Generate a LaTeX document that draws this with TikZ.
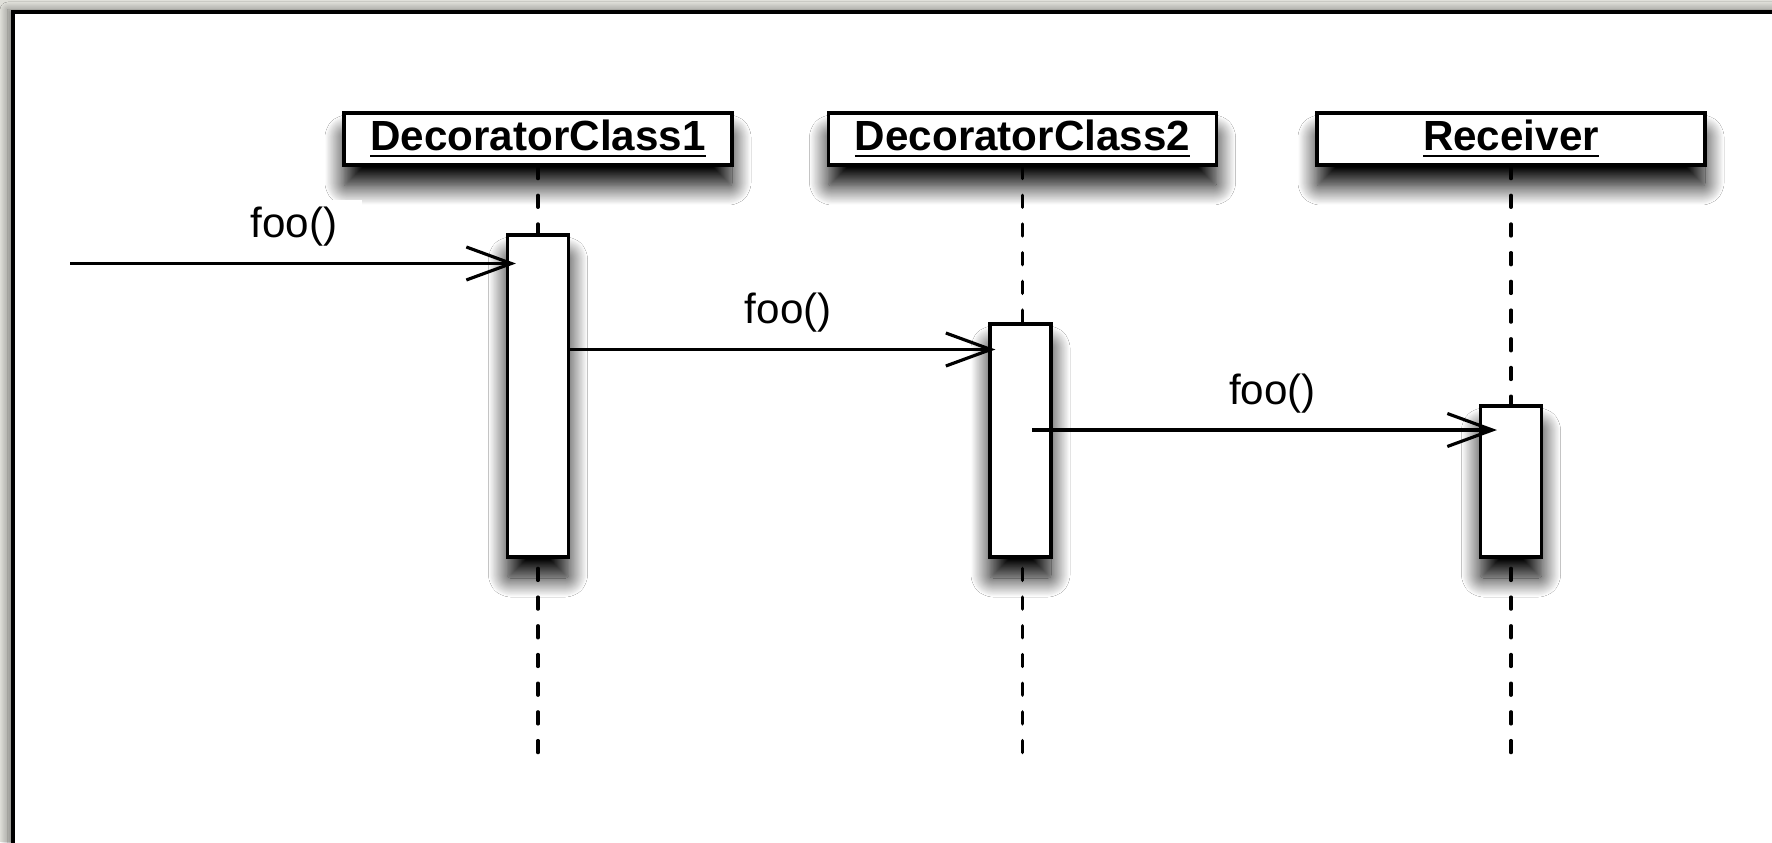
\documentclass[tikz,border=0pt]{standalone}
\usepackage{fontspec}
\setmainfont{Liberation Sans}
\usetikzlibrary{arrows.meta}
\usetikzlibrary{shadows.blur}
\definecolor{desk}{RGB}{224,224,218}

% soft drop shadow under boxes
\tikzset{
	soft shadow/.style={blur shadow={shadow xshift=0mm, shadow yshift=-2.1mm, shadow blur radius=1.9mm, shadow blur steps=24, shadow blur extra rounding=0.3mm, shadow opacity=100}},
	header/.style={draw, fill=white, line width=0.9pt, minimum width=3.88cm, minimum height=0.52cm, inner sep=0pt, soft shadow, font=\fontsize{12}{14}\selectfont\bfseries},
	activation/.style={draw, fill=white, line width=0.9pt, minimum width=0.61cm, inner sep=0pt, soft shadow},
	lifeline/.style={line width=0.95pt, line cap=round, dash pattern=on 1.2mm off 1.67mm},
	msg/.style={line width=0.9pt, -{Straight Barb[length=4.5mm, width=3.3mm]}},
	msglabel/.style={fill=white, minimum width=1.37cm, inner ysep=0.7mm, anchor=base, font=\fontsize{12}{14}\selectfont}
}

\begin{document}
\begin{tikzpicture}
	% sheet: 17.72cm x 8.42cm
	\useasboundingbox (0,0) rectangle (17.72,8.42);
	\clip (0,0) rectangle (17.72,8.42);
	\fill[desk] (0,0) rectangle (17.72,8.42);
	\draw[line width=0.9pt, fill=white, blur shadow={shadow xshift=-0.5mm, shadow yshift=0.2mm, shadow blur radius=0.8mm, shadow blur steps=12, shadow opacity=45}] (0.13,8.30) rectangle (18.2,-0.5);
	% participants
	\node[header] (hdr1) at (5.38,7.03) {\underline{DecoratorClass1}};
	\node[header] (hdr2) at (10.225,7.03) {\underline{DecoratorClass2}};
	\node[header] (hdr3) at (15.11,7.03) {\underline{Receiver}};
	% lifelines
	\coordinate (bottom) at (0,0.88);
	\draw[lifeline] (hdr1.south) -- (hdr1.south |- bottom);
	\draw[lifeline] (hdr2.south) -- (hdr2.south |- bottom);
	\draw[lifeline] (hdr3.south) -- (hdr3.south |- bottom);
	% activations
	\node[activation, minimum height=3.22cm] (act1) at (5.38,4.46) {};
	\node[activation, minimum height=2.33cm] (act2) at (10.205,4.015) {};
	\node[activation, minimum height=1.51cm] (act3) at (15.11,3.605) {};
	% messages
	\coordinate (caller) at (0.70,5.785);
	\coordinate (m2) at (0,4.925);
	\coordinate (m3) at (0,4.12);
	\draw[msg, shorten >=-1mm] (caller) -- (caller -| act1.west)
		node[msglabel, midway, xshift=0.6mm, yshift=2.6mm] (lbl1) {foo()};
	\draw[msg, shorten >=-0.7mm] (m2 -| act1.east) -- (m2 -| act2.west)
		node[msglabel, midway, xshift=0.9mm, yshift=2.6mm] (lbl2) {foo()};
	\draw[msg, shorten >=-1.8mm] ([xshift=1.15mm]m3 -| act2.center) -- (m3 -| act3.west)
		node[msglabel, midway, xshift=1.7mm, yshift=2.6mm] (lbl3) {foo()};
\end{tikzpicture}
\end{document}
